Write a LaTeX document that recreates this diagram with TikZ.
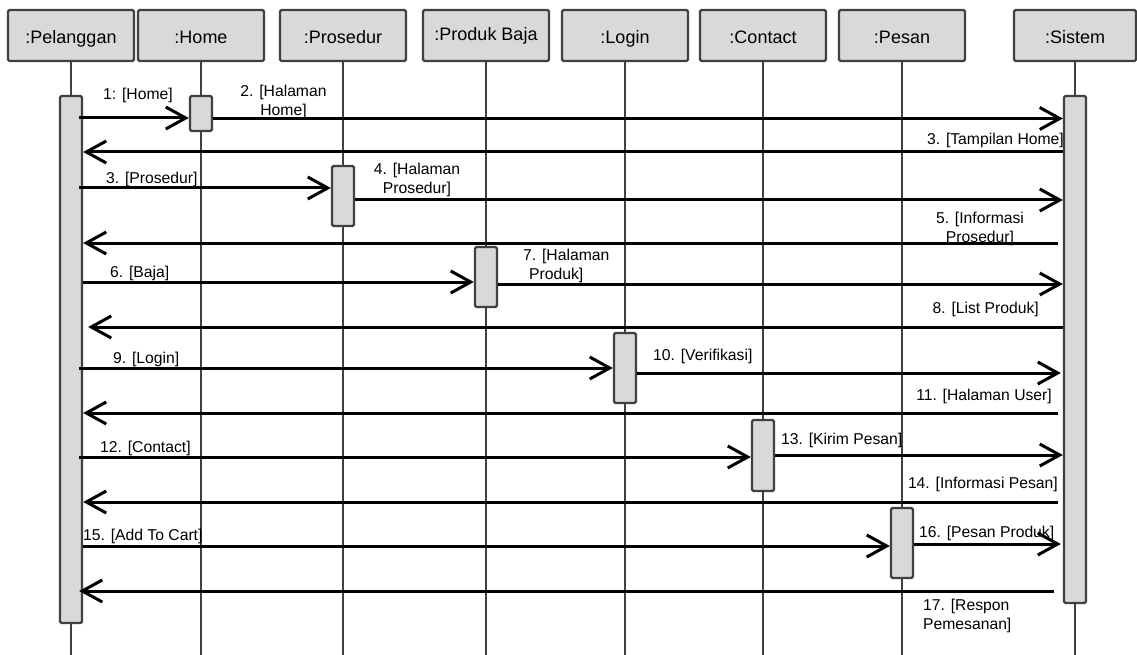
\documentclass[tikz,border=0pt]{standalone}
\usepackage{fontspec}
\setmainfont{Liberation Sans}
\usetikzlibrary{arrows.meta}
\definecolor{boxfill}{HTML}{D9D9D9}
\definecolor{linegray}{HTML}{404040}
\tikzset{
  head/.style={draw=linegray, fill=boxfill, line width=2.3pt, rounded corners=1.5pt,
    minimum width=126pt, minimum height=51pt, inner sep=0pt, text height=21pt, text depth=4pt,
    font=\fontsize{18}{21}\selectfont},
  life/.style={draw=linegray, line width=2.5pt},
  actbox/.style={draw=linegray, fill=boxfill, line width=2.3pt, rounded corners=1.5pt,
    minimum width=22pt, inner sep=0pt},
  msg/.style={draw=black, line width=3pt, -{Straight Barb[length=20pt,width=22pt]}},
  lbl/.style={inner sep=0pt, font=\fontsize{15.7}{19.5}\selectfont},
}
\begin{document}
\begin{tikzpicture}[x=1pt,y=-1pt]
\useasboundingbox (0,0) rectangle (1137,655);
\coordinate (bot) at (0,655);
% object headers
\node[head] (pel) at (71,35.5) {:Pelanggan};
\node[head] (home) at (201,35.5) {:Home};
\node[head] (pros) at (343,35.5) {:Prosedur};
\node[head, text height=15pt] (prod) at (486,35.5) {:Produk Baja};
\node[head] (login) at (625,35.5) {:Login};
\node[head] (cont) at (763,35.5) {:Contact};
\node[head] (pesan) at (902,35.5) {:Pesan};
\node[head, minimum width=122pt] (sis) at (1075,35.5) {:Sistem};
% lifelines
\foreach \n in {pel,home,pros,prod,login,cont,pesan,sis}
  \draw[life] (\n.south) -- (\n.south |- bot);
% activation boxes
\node[actbox, minimum height=527pt] (pelact) at (71,359.5) {};
\node[actbox, minimum height=35pt] (homeact) at (201,113.5) {};
\node[actbox, minimum height=60pt] (prosact) at (343,196) {};
\node[actbox, minimum height=60pt] (prodact) at (486,277) {};
\node[actbox, minimum height=70pt] (loginact) at (625,368) {};
\node[actbox, minimum height=71pt] (contact) at (763,455.5) {};
\node[actbox, minimum height=70pt] (pesanact) at (902,543) {};
\node[actbox, minimum height=507pt] (sisact) at (1075,349.5) {};
% message rows
\coordinate (r1) at (0,118);
\coordinate (r2) at (0,118.5);
\coordinate (r3) at (0,152);
\coordinate (r4) at (0,188);
\coordinate (r5) at (0,200);
\coordinate (r6) at (0,243);
\coordinate (r7) at (0,282);
\coordinate (r8) at (0,284);
\coordinate (r9) at (0,327);
\coordinate (r10) at (0,368);
\coordinate (r11) at (0,373);
\coordinate (r12) at (0,413);
\coordinate (r13) at (0,457);
\coordinate (r14) at (0,455);
\coordinate (r15) at (0,502);
\coordinate (r16) at (0,546);
\coordinate (r17) at (0,544);
\coordinate (r18) at (0,591);
% messages
\draw[msg] ([xshift=-4pt]pelact.east |- r1) -- (homeact.west |- r1);
\draw[msg] (homeact.east |- r2) -- (sisact.west |- r2);
\draw[msg] (sisact.west |- r3) -- (pelact.east |- r3);
\draw[msg] ([xshift=-4pt]pelact.east |- r4) -- (prosact.west |- r4);
\draw[msg] (prosact.east |- r5) -- (sisact.west |- r5);
\draw[msg] ([xshift=-5pt]sisact.west |- r6) -- (pelact.east |- r6);
\draw[msg] (pelact.east |- r7) -- (prodact.west |- r7);
\draw[msg] (prodact.east |- r8) -- (sisact.west |- r8);
\draw[msg] (sisact.west |- r9) -- ([xshift=5pt]pelact.east |- r9);
\draw[msg] ([xshift=-4pt]pelact.east |- r10) -- (loginact.west |- r10);
\draw[msg] (loginact.east |- r11) -- ([xshift=-2pt]sisact.west |- r11);
\draw[msg] ([xshift=-5pt]sisact.west |- r12) -- (pelact.east |- r12);
\draw[msg] ([xshift=-4pt]pelact.east |- r13) -- (contact.west |- r13);
\draw[msg] (contact.east |- r14) -- (sisact.west |- r14);
\draw[msg] ([xshift=-5pt]sisact.west |- r15) -- (pelact.east |- r15);
\draw[msg] (pelact.east |- r16) -- (pesanact.west |- r16);
\draw[msg] (pesanact.east |- r17) -- ([xshift=-2pt]sisact.west |- r17);
\draw[msg] ([xshift=-9pt]sisact.west |- r18) -- ([xshift=-4pt]pelact.east |- r18);
% labels
\node[lbl, anchor=base west] (l1) at (103,100) {1: [Home]};
\node[lbl, anchor=north, align=center] (l2) at (283.5,84.5) {2. [Halaman\\Home]};
\node[lbl, anchor=base east] (l3) at (1064,145) {3. [Tampilan Home]};
\node[lbl, anchor=base west] (l4) at (106,184) {3. [Prosedur]};
\node[lbl, anchor=north, align=center] (l5) at (417,162.5) {4. [Halaman\\Prosedur]};
\node[lbl, anchor=north, align=center] (l6) at (980,211.5) {5. [Informasi\\Prosedur]};
\node[lbl, anchor=base west] (l7) at (110,277) {6. [Baja]};
\node[lbl, anchor=north west, align=left] (l8) at (523,248.5) {7. [Halaman\\\hspace*{6pt}Produk]};
\node[lbl, anchor=base east] (l9) at (1039,313) {8. [List Produk]};
\node[lbl, anchor=base west] (l10) at (113,363) {9. [Login]};
\node[lbl, anchor=base west] (l11) at (653,360) {10. [Verifikasi]};
\node[lbl, anchor=base east] (l12) at (1052,400) {11. [Halaman User]};
\node[lbl, anchor=base west] (l13) at (100,452) {12. [Contact]};
\node[lbl, anchor=base west] (l14) at (781,444) {13. [Kirim Pesan]};
\node[lbl, anchor=base east] (l15) at (1058,488) {14. [Informasi Pesan]};
\node[lbl, anchor=base west] (l16) at (83,540) {15. [Add To Cart]};
\node[lbl, anchor=base west] (l17) at (919,537) {16. [Pesan Produk]};
\node[lbl, anchor=north west, align=left] (l18) at (923,598.5) {17. [Respon\\Pemesanan]};
\end{tikzpicture}
\end{document}
